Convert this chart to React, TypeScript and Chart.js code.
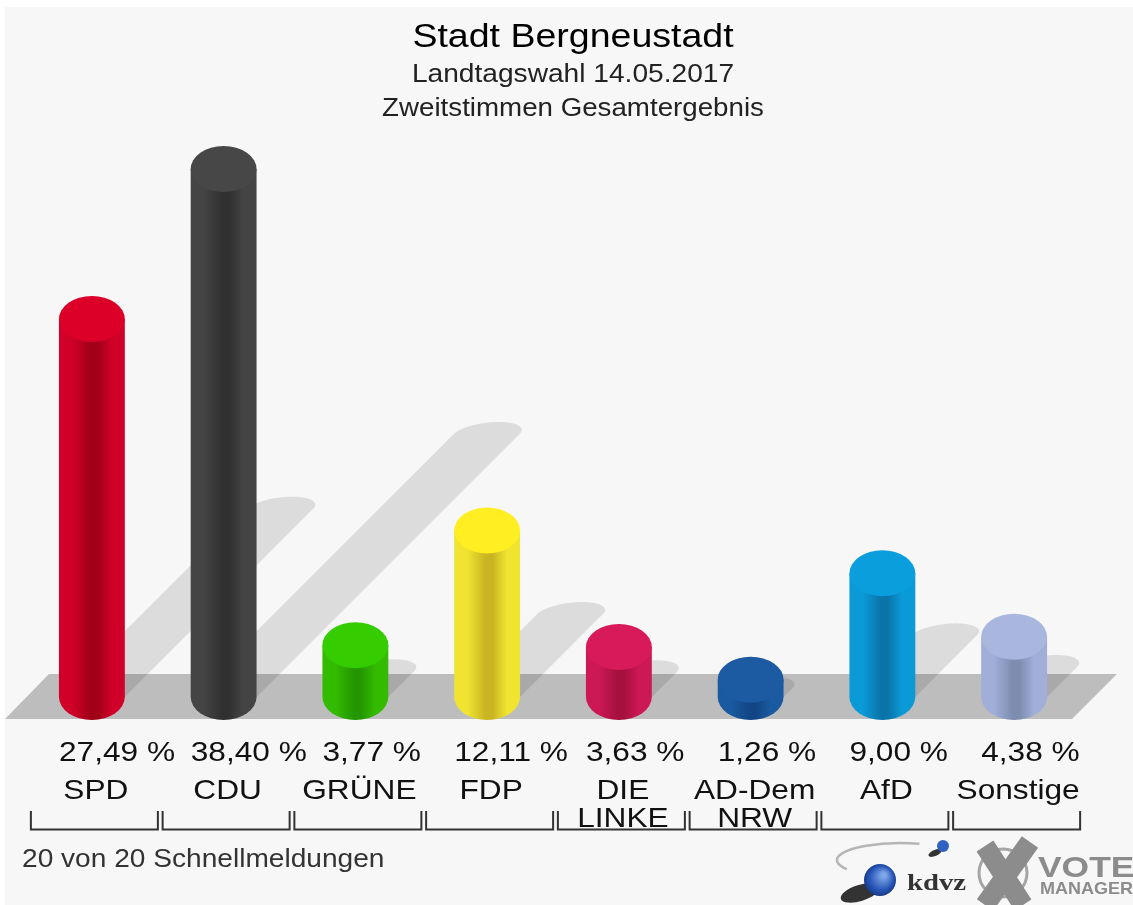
import React, { useEffect, useRef } from "react";
import { Chart, registerables } from "chart.js";

Chart.register(...registerables);

const parties: (string | string[])[] = ["SPD", "CDU", "GRÜNE", "FDP", ["DIE", "LINKE"], ["AD-Dem", "NRW"], "AfD", "Sonstige"];
const shares = [27.49, 38.4, 3.77, 12.11, 3.63, 1.26, 9.0, 4.38];
const shareLabels = ["27,49 %", "38,40 %", "3,77 %", "12,11 %", "3,63 %", "1,26 %", "9,00 %", "4,38 %"];
const topColors = ["#dc0029", "#474747", "#35cc00", "#ffee22", "#d81a5a", "#1c5aa2", "#0a9fdc", "#a9b7de"];
const edgeColors = ["#d00028", "#444444", "#33bb00", "#f0e430", "#cc1855", "#1a5aa0", "#0a9ad8", "#a0aed8"];
const darkColors = ["#a00018", "#303030", "#249600", "#c9b422", "#a5103f", "#124585", "#0a74a8", "#7e8cb0"];
const titleText = "Stadt Bergneustadt";
const subtitleLines = ["Landtagswahl 14.05.2017", "Zweitstimmen Gesamtergebnis"];
const footerText = "20 von 20 Schnellmeldungen";

const FONT = '"Liberation Sans", Arial, sans-serif';
const RY = 23;
const STRETCH = 1.125;
const SHADOW_PER_UNIT = 6.85;
const SHADOW_CAP = 12;

function sideGradient(ctx: CanvasRenderingContext2D, x: number, w: number, i: number) {
  const g = ctx.createLinearGradient(x - w / 2, 0, x + w / 2, 0);
  g.addColorStop(0, edgeColors[i]);
  g.addColorStop(0.2, edgeColors[i]);
  g.addColorStop(0.48, darkColors[i]);
  g.addColorStop(0.58, darkColors[i]);
  g.addColorStop(0.8, edgeColors[i]);
  g.addColorStop(1, edgeColors[i]);
  return g;
}

function text(ctx: any, s: string, x: number, y: number, font: string, color: string, align: string = "left", sx = STRETCH) {
  ctx.save();
  ctx.translate(x, y);
  ctx.scale(sx, 1);
  ctx.font = font;
  ctx.fillStyle = color;
  ctx.textAlign = align;
  ctx.textBaseline = "alphabetic";
  ctx.fillText(s, 0, 0);
  ctx.restore();
}

const cylinderPlugin = {
  id: "cylinder",
  beforeDraw(chart: any) {
    const { ctx, width, height } = chart;
    ctx.save();
    ctx.fillStyle = "#ffffff";
    ctx.fillRect(0, 0, width, height);
    ctx.fillStyle = "#f7f7f7";
    ctx.fillRect(5, 7, width - 5, height - 7);
    ctx.restore();
  },
  beforeDatasetsDraw(chart: any) {
    const { ctx } = chart;
    const base = chart.scales.y.getPixelForValue(0);
    const meta = chart.getDatasetMeta(0);
    ctx.save();
    // floor
    ctx.fillStyle = "#bdbdbd";
    ctx.beginPath();
    ctx.moveTo(5, base + RY - 1);
    ctx.lineTo(1072, base + RY - 1);
    ctx.lineTo(1117, base - RY);
    ctx.lineTo(49, base - RY);
    ctx.closePath();
    ctx.fill();
    // cast shadows: a 45 degree band ending in a sheared half ellipse
    ctx.fillStyle = "rgba(0,0,0,0.105)";
    meta.data.forEach((bar: any, i: number) => {
      const d = shares[i] * SHADOW_PER_UNIT;
      const half = bar.width / 2;
      const tx = bar.x + d;
      const ty = base - d;
      ctx.beginPath();
      ctx.moveTo(bar.x - half, base);
      ctx.lineTo(tx - half, ty);
      for (let a = 180; a >= 0; a -= 6) {
        const r = (a * Math.PI) / 180;
        ctx.lineTo(tx + half * Math.cos(r) + SHADOW_CAP * Math.sin(r), ty - SHADOW_CAP * Math.sin(r));
      }
      ctx.lineTo(bar.x + half, base);
      ctx.closePath();
      ctx.fill();
    });
    // base of each cylinder
    meta.data.forEach((bar: any, i: number) => {
      ctx.fillStyle = sideGradient(ctx, bar.x, bar.width, i);
      ctx.beginPath();
      ctx.ellipse(bar.x, base, bar.width / 2, RY, 0, 0, Math.PI);
      ctx.closePath();
      ctx.fill();
    });
    ctx.restore();
  },
  afterDatasetsDraw(chart: any) {
    const { ctx } = chart;
    const meta = chart.getDatasetMeta(0);
    ctx.save();
    meta.data.forEach((bar: any, i: number) => {
      ctx.fillStyle = topColors[i];
      ctx.beginPath();
      ctx.ellipse(bar.x, bar.y, bar.width / 2, RY, 0, 0, Math.PI * 2);
      ctx.closePath();
      ctx.fill();
    });
    ctx.restore();
  },
  afterDraw(chart: any) {
    const { ctx } = chart;
    const meta = chart.getDatasetMeta(0);
    const cx = 573;
    text(ctx, titleText, cx, 47, `33.5px ${FONT}`, "#000000", "center", 1.12);
    text(ctx, subtitleLines[0], cx, 81.5, `25px ${FONT}`, "#222222", "center", 1.125);
    text(ctx, subtitleLines[1], cx, 115.5, `25px ${FONT}`, "#222222", "center", 1.108);

    meta.data.forEach((bar: any, i: number) => {
      text(ctx, shareLabels[i], bar.x - bar.width / 2, 761, `28px ${FONT}`, "#111111", "left", 1.13);
      const name = parties[i];
      const lines = Array.isArray(name) ? name : [name];
      lines.forEach((line: string, k: number) => {
        text(ctx, line, bar.x + 4, 799 + k * 28, `28px ${FONT}`, "#111111", "center", 1.13);
      });
      // bracket under each party
      const half = 63.5;
      ctx.save();
      ctx.strokeStyle = "#333333";
      ctx.lineWidth = 2;
      ctx.beginPath();
      ctx.moveTo(bar.x + 2.5 - half, 811);
      ctx.lineTo(bar.x + 2.5 - half, 829.5);
      ctx.lineTo(bar.x + 2.5 + half, 829.5);
      ctx.lineTo(bar.x + 2.5 + half, 811);
      ctx.stroke();
      ctx.restore();
    });
    text(ctx, footerText, 22, 867, `25px ${FONT}`, "#333333", "left", 1.124);

    // kdvz logo
    ctx.save();
    ctx.strokeStyle = "#b5b5b5";
    ctx.lineWidth = 2.5;
    ctx.beginPath();
    ctx.ellipse(900, 860, 63, 17, 0, Math.PI * 0.82, Math.PI * 1.6);
    ctx.stroke();
    ctx.fillStyle = "#333333";
    ctx.beginPath();
    ctx.ellipse(860, 893, 20, 8, -0.3, 0, Math.PI * 2);
    ctx.fill();
    const g = ctx.createRadialGradient(884, 875, 2, 880, 880, 18);
    g.addColorStop(0, "#7fa8ea");
    g.addColorStop(0.6, "#2a58b8");
    g.addColorStop(1, "#10307a");
    ctx.fillStyle = g;
    ctx.beginPath();
    ctx.arc(880, 880, 16, 0, Math.PI * 2);
    ctx.fill();
    ctx.fillStyle = "#333333";
    ctx.beginPath();
    ctx.ellipse(935, 853, 7, 3, -0.4, 0, Math.PI * 2);
    ctx.fill();
    ctx.fillStyle = "#2f62c0";
    ctx.beginPath();
    ctx.arc(943, 846, 6, 0, Math.PI * 2);
    ctx.fill();
    ctx.restore();
    text(ctx, "kdvz", 907, 890, `bold 23px "Liberation Serif", serif`, "#333333", "left", 1.25);

    // X of the vote manager mark
    ctx.save();
    ctx.strokeStyle = "#a5a5a5";
    ctx.lineWidth = 3;
    ctx.beginPath();
    ctx.arc(1003, 873, 24, 0, Math.PI * 2);
    ctx.stroke();
    ctx.strokeStyle = "#8c8c8c";
    ctx.lineCap = "butt";
    ctx.lineWidth = 20;
    ctx.beginPath();
    ctx.moveTo(985, 846);
    ctx.lineTo(1023, 905);
    ctx.moveTo(1030, 842);
    ctx.lineTo(985, 905);
    ctx.stroke();
    ctx.restore();
    text(ctx, "VOTE", 1038, 877, `bold 30px ${FONT}`, "#8c8c8c", "left", 1.18);
    text(ctx, "MANAGER", 1040, 894, `bold 17px ${FONT}`, "#8c8c8c", "left", 1.06);
  },
};

export default function App() {
  const ref = useRef<HTMLCanvasElement>(null);
  useEffect(() => {
    document.body.style.margin = "0";
    const chart = new Chart(ref.current as HTMLCanvasElement, {
      type: "bar",
      data: {
        labels: parties as any,
        datasets: [
          {
            data: shares,
            barPercentage: 0.5,
            categoryPercentage: 1,
            backgroundColor: (c: any) => {
              const x = c.chart.scales.x;
              const px = x ? x.getPixelForValue(c.dataIndex) : NaN;
              const w = x ? (x.width / parties.length) * 0.5 : NaN;
              if (!Number.isFinite(px) || !Number.isFinite(w)) return edgeColors[c.dataIndex];
              return sideGradient(c.chart.ctx, px, w, c.dataIndex);
            },
          },
        ],
      },
      options: {
        responsive: false,
        animation: false,
        layout: { padding: { left: 26, right: 53, top: 119.5, bottom: 208 } },
        plugins: { legend: { display: false }, tooltip: { enabled: false } },
        scales: {
          x: { display: false },
          y: { display: false, min: 0, max: 42 },
        },
      },
      plugins: [cylinderPlugin],
    } as any);
    return () => chart.destroy();
  }, []);
  return (
    <canvas
      ref={ref}
      width={1133}
      height={905}
      style={{ display: "block", width: 1133, height: 905, filter: "blur(0.5px)" }}
    />
  );
}
